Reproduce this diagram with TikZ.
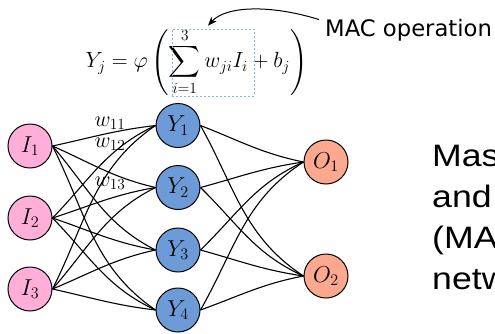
\RequirePackage{fix-cm}
\documentclass[tikz,border=0pt]{standalone}
\usepackage{amsmath, amssymb}
\usepackage{fontspec}
\usepackage{xcolor}
\usepackage{tikz}
\usetikzlibrary{arrows.meta}

\newfontfamily\macfont{DejaVu Sans}
\newfontfamily\sidefont[FakeStretch=1.15]{Liberation Sans}

\definecolor{inpink}{HTML}{FFAED8}
\definecolor{hidblue}{HTML}{6C9BD8}
\definecolor{outsalmon}{HTML}{FBA88E}
\definecolor{boxblue}{HTML}{8EB0E3}

\begin{document}
\begin{tikzpicture}[
        x=1pt, y=1pt,
        neuron/.style={circle, draw, line width=1pt, minimum size=44pt,
                       inner sep=0pt, font=\fontsize{23}{27}\selectfont},
        edge/.style={line width=1.1pt},
        arr/.style={-{Stealth[length=9pt,width=7pt]}, line width=1pt},
        mathtxt/.style={font=\fontsize{22}{26}\selectfont, inner sep=0pt}
    ]
    \useasboundingbox (0,0) rectangle (495,-333);
    \clip (0,0) rectangle (495,-333);

    % formula and the MAC part
    \node[mathtxt] (eq) at (196.5,-62)
        {$\displaystyle Y_j=\varphi\left(\sum_{i=1}^{3} w_{ji}I_i + b_j\right)$};
    \node[draw=boxblue, dash pattern=on 2pt off 2pt, line width=0.7pt,
          minimum width=82pt, minimum height=67pt] (sumbox) at (213,-62.5) {};
    \node[font=\macfont\fontsize{22.7}{26}\selectfont, anchor=base west,
          inner sep=0pt] (mac) at (325,-36) {MAC operation};
    \draw[arr] ([xshift=-6pt,yshift=-1pt]mac.north west)
        .. controls +(-48,15) and +(18,20) .. ([xshift=-5pt,yshift=3pt]sumbox.north);

    % layers
    \foreach \i/\yy in {1/146, 2/218, 3/289}
        \node[neuron, fill=inpink] (I\i) at (30,-\yy) {$I_{\i}$};
    \foreach \j/\yy in {1/125.5, 2/187.5, 3/250, 4/310}
        \node[neuron, fill=hidblue] (Y\j) at (178,-\yy) {$Y_{\j}$};
    \foreach \k/\yy in {1/162, 2/276}
        \node[neuron, fill=outsalmon] (O\k) at (326,-\yy) {$O_{\k}$};

    % weights
    \foreach \i/\a in {1/146, 2/218, 3/289}
        \foreach \j/\b in {1/125.5, 2/187.5, 3/250, 4/310} {
            \pgfmathsetmacro\ang{atan2(\a-\b,104)}
            \pgfmathsetmacro\aout{1.1*\ang}
            \pgfmathsetmacro\ain{0.6*\ang+180}
            \draw[edge] (I\i.east) to[out=\aout, in=\ain] (Y\j.west);
        }
    \foreach \j/\a in {1/125.5, 2/187.5, 3/250, 4/310}
        \foreach \k/\b in {1/162, 2/276} {
            \pgfmathsetmacro\ang{atan2(\a-\b,104)}
            \pgfmathsetmacro\aout{1.1*\ang}
            \pgfmathsetmacro\ain{0.6*\ang+180}
            \draw[edge] (Y\j.east) to[out=\aout, in=\ain] (O\k.west);
        }

    \node[mathtxt] (w11) at (110,-123) {$w_{11}$};
    \node[mathtxt] (w12) at (110,-144) {$w_{12}$};
    \node[mathtxt] (w13) at (110,-183) {$w_{13}$};

    % side text, cut by the frame
    \node[font=\sidefont\fontsize{31}{41}\selectfont, align=left,
          anchor=north west, inner sep=0pt] (side) at (432,-145)
        {Mas\\and\\(MA\\netw};
\end{tikzpicture}
\end{document}
